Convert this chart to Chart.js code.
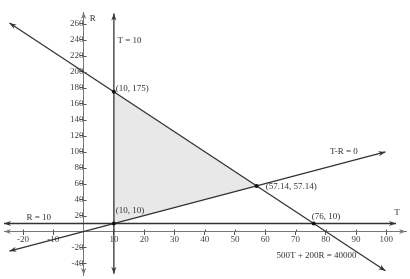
<!DOCTYPE html>
<html><head><meta charset="utf-8">
<script src="https://cdn.jsdelivr.net/npm/chart.js@4"></script>
<style>html,body{margin:0;padding:0;background:#fff}#wrap{width:410px;height:279px;position:relative}</style>
</head><body><div id="wrap"><canvas id="c"></canvas></div>
<script>
// ---- data ----
const xTicks = [-20,-10,10,20,30,40,50,60,70,80,90,100];
const yTicks = [-40,-20,20,40,60,80,100,120,140,160,180,200,220,240,260];
const budgetT = [-24.5, 99.7];      // 500T + 200R = 40000
const budgetR = [261.25, -49.25];
const trT = [-24.5, 99.7];          // T - R = 0
const trR = [-24.5, 99.7];
const t10T = [10, 10];              // T = 10
const t10R = [-53, 273];
const r10T = [-26.3, 103.2];        // R = 10
const r10R = [10, 10];
const regionT = [10, 10, 57.14, 10];
const regionR = [10, 175, 57.14, 10];
const cornerT = [10, 57.14, 76, 10];
const cornerR = [175, 57.14, 10, 10];
const labelText = ['R', 'T = 10', '(10, 175)', '(57.14, 57.14)', 'T-R = 0', '(76, 10)', 'R = 10', '(10, 10)', '500T + 200R = 40000', 'T'];
const labelT = [2.0, 11.2, 10.6, 60.2, 81.4, 75.4, -18.9, 10.6, 63.7, 102.6];
const labelR = [267, 239, 179, 56.5, 99.5, 18, 17, 26.5, -30.5, 24];

const pts = (xs, ys) => xs.map((v, i) => ({x: v, y: ys[i]}));
const LINE = '#333';
const AXIS = '#777';
const FONT = '"Liberation Serif", "Times New Roman", serif';

function arrow(ctx, fx, fy, tx, ty, color) {
  const a = Math.atan2(ty - fy, tx - fx), L = 7, W = 2.6;
  const c = Math.cos(a), s = Math.sin(a);
  ctx.fillStyle = color;
  ctx.beginPath();
  ctx.moveTo(tx, ty);
  ctx.lineTo(tx - L * c + W * s, ty - L * s - W * c);
  ctx.lineTo(tx - L * 0.7 * c, ty - L * 0.7 * s);
  ctx.lineTo(tx - L * c - W * s, ty - L * s + W * c);
  ctx.closePath();
  ctx.fill();
}

const deco = {
  id: 'deco',
  afterDraw(chart) {
    const {ctx, scales: {x, y}, chartArea: a} = chart;
    ctx.save();
    chart.data.datasets.forEach((ds, i) => {
      if (!ds.arrows) return;
      const d = chart.getDatasetMeta(i).data;
      const p0 = d[0], p1 = d[d.length - 1];
      arrow(ctx, p1.x, p1.y, p0.x, p0.y, ds.borderColor);
      arrow(ctx, p0.x, p0.y, p1.x, p1.y, ds.borderColor);
    });
    const x0 = x.getPixelForValue(0), y0 = y.getPixelForValue(0);
    // tick marks on the inner side so they cross the axis
    ctx.strokeStyle = '#555';
    ctx.lineWidth = 1;
    ctx.beginPath();
    y.ticks.forEach(t => { const py = Math.round(y.getPixelForValue(t.value)) + 0.5; ctx.moveTo(x0, py); ctx.lineTo(x0 + 3, py); });
    x.ticks.forEach(t => { const px = Math.round(x.getPixelForValue(t.value)) + 0.5; ctx.moveTo(px, y0); ctx.lineTo(px, y0 - 2); });
    ctx.stroke();
    arrow(ctx, a.left + 10, y0, a.left, y0, AXIS);
    arrow(ctx, a.right - 10, y0, a.right, y0, AXIS);
    arrow(ctx, x0, a.top + 10, x0, a.top, AXIS);
    arrow(ctx, x0, a.bottom - 10, x0, a.bottom, AXIS);
    ctx.font = '9px ' + FONT;
    ctx.fillStyle = '#333';
    ctx.textBaseline = 'middle';
    ctx.textAlign = 'left';
    labelText.forEach((t, i) => ctx.fillText(t, x.getPixelForValue(labelT[i]), y.getPixelForValue(labelR[i])));
    ctx.restore();
  }
};

const lineDs = (xs, ys, extra) => Object.assign({
  data: pts(xs, ys), showLine: true, borderColor: LINE, borderWidth: 1.3,
  pointRadius: 0, fill: false, arrows: true, order: 1
}, extra || {});

const noPad = s => { s.paddingTop = 0; s.paddingBottom = 0; s.paddingLeft = 0; s.paddingRight = 0; };

new Chart(document.getElementById('c'), {
  type: 'scatter',
  data: {
    datasets: [
      {data: pts(cornerT, cornerR), pointRadius: 2, pointBackgroundColor: '#111', pointBorderWidth: 0, showLine: false, order: 0},
      lineDs(budgetT, budgetR),
      lineDs(trT, trR),
      lineDs(t10T, t10R),
      lineDs(r10T, r10R),
      {data: pts(regionT, regionR), showLine: true, borderWidth: 0, borderColor: 'rgba(0,0,0,0)', backgroundColor: '#e8e8e8', fill: 'shape', pointRadius: 0, order: 10}
    ]
  },
  options: {
    responsive: true, maintainAspectRatio: false, animation: false,
    layout: {padding: {left: 2, right: 2, top: 12, bottom: 1}},
    plugins: {legend: {display: false}, tooltip: {enabled: false}},
    scales: {
      x: {
        type: 'linear', min: -26.3, max: 106.5, position: {y: 0},
        afterBuildTicks: ax => { ax.ticks = xTicks.map(v => ({value: v})); },
        afterFit: noPad,
        grid: {drawOnChartArea: false, drawTicks: true, tickLength: 3, color: '#555'},
        border: {color: AXIS, width: 1},
        ticks: {font: {family: FONT, size: 9}, color: '#444', padding: 0, maxRotation: 0, autoSkip: false}
      },
      y: {
        type: 'linear', min: -54.5, max: 275, position: {x: 0},
        afterBuildTicks: ax => { ax.ticks = yTicks.map(v => ({value: v})); },
        afterFit: noPad,
        grid: {drawOnChartArea: false, drawTicks: true, tickLength: 3, color: '#555'},
        border: {color: AXIS, width: 1},
        ticks: {font: {family: FONT, size: 9}, color: '#444', padding: 1, autoSkip: false}
      }
    }
  },
  plugins: [deco]
});
</script></body></html>
